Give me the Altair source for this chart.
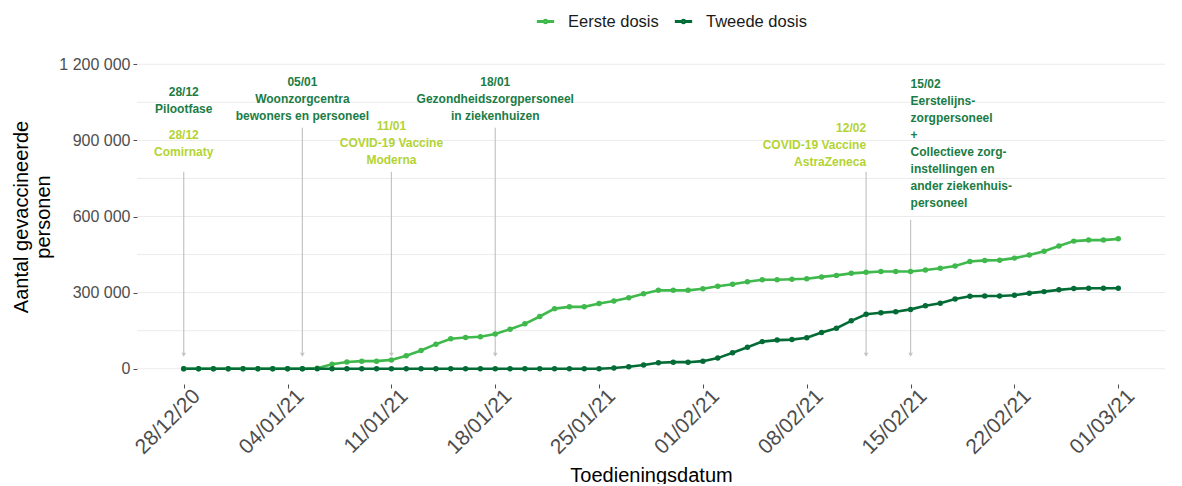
import altair as alt
import pandas as pd

# ---------------- data ----------------
dates = pd.date_range("2020-12-28", "2021-03-01", freq="D").strftime("%Y-%m-%d").tolist()

eerste = [0, 0, 0, 0, 0, 0, 0, 0,
          0, 2000, 18000, 27000, 30000, 30000, 35000,
          51000, 72000, 97000, 118000, 123000, 126000, 137000,
          156000, 177000, 206000, 237000, 244000, 244000, 257000,
          267000, 280000, 296000, 309000, 309000, 309000, 315000,
          325000, 333000, 343000, 351000, 351000, 353000, 355000,
          362000, 368000, 376000, 380000, 383000, 383000, 383000,
          389000, 396000, 405000, 423000, 427000, 428000, 436000,
          448000, 463000, 484000, 503000, 507000, 507000, 512000]

tweede = [0] * 29 + [3000, 8000, 15000, 24000, 26000, 26000, 30000,
                     42000, 63000, 85000, 107000, 113000, 115000, 122000,
                     143000, 160000, 189000, 215000, 221000, 225000, 234000,
                     248000, 258000, 275000, 286000, 287000, 287000, 290000,
                     298000, 304000, 311000, 316000, 317000, 317000, 317000]

series_names = ["Eerste dosis", "Tweede dosis"]
series_colors = ["#3fb84c", "#036b35"]

tick_dates = ["2020-12-28", "2021-01-04", "2021-01-11", "2021-01-18", "2021-01-25",
              "2021-02-01", "2021-02-08", "2021-02-15", "2021-02-22", "2021-03-01"]

y_label_values = [0, 300000, 600000, 900000, 1200000]
grid_values = [0, 150000, 300000, 450000, 600000, 750000, 900000, 1050000, 1200000]

arrow_dates = ["2020-12-28", "2021-01-05", "2021-01-11", "2021-01-18", "2021-02-12", "2021-02-15"]
arrow_top = [776000, 950000, 776000, 950000, 776000, 587000]
arrow_bottom = [55000] * 6

ann_dates = ["2020-12-28", "2020-12-28", "2021-01-05", "2021-01-11",
             "2021-01-18", "2021-02-12", "2021-02-15"]
ann_texts = [
    "28/12\nPilootfase",
    "28/12\nComirnaty",
    "05/01\nWoonzorgcentra\nbewoners en personeel",
    "11/01\nCOVID-19 Vaccine\nModerna",
    "18/01\nGezondheidszorgpersoneel\nin ziekenhuizen",
    "12/02\nCOVID-19 Vaccine\nAstraZeneca",
    "15/02\n\u00a0Eerstelijns-\nzorgpersoneel\n+\nCollectieve zorg-\ninstellingen en\nander ziekenhuis-\npersoneel",
]
ann_y = [1110000, 940000, 1150000, 975000, 1150000, 970000, 1140000]
ann_kind = ["groep", "vaccin", "groep", "vaccin", "groep", "vaccin", "groep"]
ann_align = ["center", "center", "center", "center", "center", "right", "left"]
ann_colors = {"groep": "#1b7c45", "vaccin": "#b3d334"}

# ---------------- tables ----------------
df = pd.DataFrame({
    "datum": dates * 2,
    "waarde": eerste + tweede,
    "reeks": [series_names[0]] * len(dates) + [series_names[1]] * len(dates),
})
grid_df = pd.DataFrame({"v": grid_values})
arrow_df = pd.DataFrame({"datum": arrow_dates, "top": arrow_top, "bottom": arrow_bottom})
ann_df = pd.DataFrame({"datum": ann_dates, "tekst": ann_texts, "y": ann_y,
                       "soort": ann_kind, "align": ann_align})

FONT = "Liberation Sans"

x_scale = alt.Scale(type="utc", domain=[
    alt.DateTime(year=2020, month=12, date=24, hours=20, minutes=24, utc=True),
    alt.DateTime(year=2021, month=3, date=4, hours=3, minutes=36, utc=True)])
y_scale = alt.Scale(domain=[-60000, 1260000], nice=False, zero=False)

tick_dt = [alt.DateTime(year=int(d[:4]), month=int(d[5:7]), date=int(d[8:]), utc=True)
           for d in tick_dates]

x_axis = alt.Axis(values=tick_dt, labelExpr="utcFormat(datum.value, '%d/%m/%y')",
                  labelAngle=-45, labelAlign="right", labelBaseline="top",
                  labelFontSize=21, labelColor="#4d4d4d", labelFont=FONT,
                  tickColor="#4d4d4d", tickSize=4, domain=False, grid=False,
                  labelPadding=-3, labelOffset=5, title="Toedieningsdatum",
                  titleFontSize=20, titleFont=FONT, titleFontWeight="normal",
                  titleColor="#000000", titleBaseline="middle", titleY=91,
                  labelOverlap=False)
y_axis = alt.Axis(values=y_label_values,
                  labelExpr="replace(format(datum.value, ','), regexp(',', 'g'), ' ')",
                  labelFontSize=16, labelColor="#4d4d4d", labelFont=FONT,
                  tickColor="#4d4d4d", tickSize=4, domain=False, grid=False,
                  labelPadding=3, title=["Aantal gevaccineerde", "personen"],
                  titleFontSize=20, titleFont=FONT, titleFontWeight="normal",
                  titleColor="#000000", titlePadding=5, titleLineHeight=22)

color_scale = alt.Scale(domain=series_names, range=series_colors)

LEGEND_SYMBOL = ("M-1,0L-0.22,0M0.22,0L1,0"
                 "M-0.13,0A0.13,0.13,0,1,1,0.13,0A0.13,0.13,0,1,1,-0.13,0")


def X(field):
    return alt.X(field, scale=x_scale, axis=x_axis)


def Y(field):
    return alt.Y(field, scale=y_scale, axis=y_axis)


grid = alt.Chart(grid_df).mark_rule(color="#ebebeb", strokeWidth=1).encode(y=Y("v:Q"))

arrows = alt.Chart(arrow_df).mark_rule(color="#c4c4c4", strokeWidth=1.2).encode(
    x=X("datum:T"), y=Y("top:Q"), y2="bottom:Q")
heads = alt.Chart(arrow_df).mark_point(shape="triangle-down", filled=True, size=22,
                                       color="#c4c4c4", opacity=1).encode(
    x=X("datum:T"), y=Y("bottom:Q"))

lines = alt.Chart(df).mark_line(strokeWidth=2.6).encode(
    x=X("datum:T"), y=Y("waarde:Q"),
    color=alt.Color("reeks:N", scale=color_scale, sort=series_names,
                    legend=alt.Legend(title=None, orient="none", direction="horizontal",
                                      legendX=398, legendY=-38, symbolType=LEGEND_SYMBOL,
                                      symbolStrokeWidth=3, symbolSize=300,
                                      labelFontSize=16.5, labelFont=FONT,
                                      labelColor="#1a1a1a", columnPadding=9,
                                      labelOffset=12)))
points = alt.Chart(df).mark_circle(size=30, opacity=1).encode(
    x=X("datum:T"), y=Y("waarde:Q"),
    color=alt.Color("reeks:N", scale=color_scale, legend=None))

text_layers = []
for al in ["center", "right", "left"]:
    text_layers.append(
        alt.Chart(ann_df).transform_filter(alt.datum.align == al).mark_text(
            align=al, baseline="top", fontSize=12, fontWeight="bold", font=FONT,
            lineHeight=17, lineBreak="\n").encode(
            x=X("datum:T"), y=Y("y:Q"),
            text="tekst:N",
            color=alt.Color("soort:N", scale=alt.Scale(domain=list(ann_colors.keys()),
                                                       range=list(ann_colors.values())),
                            legend=None)))

chart = alt.layer(grid, arrows, heads, lines, points, *text_layers).resolve_scale(
    color="independent").properties(
    width=1028, height=335,
    autosize=alt.AutoSizeParams(type="none"),
    padding={"left": 129, "top": 41, "right": 9, "bottom": 100},
).configure_view(stroke=None)

chart.save("out.html", embed_options={"renderer": "svg", "actions": False})
